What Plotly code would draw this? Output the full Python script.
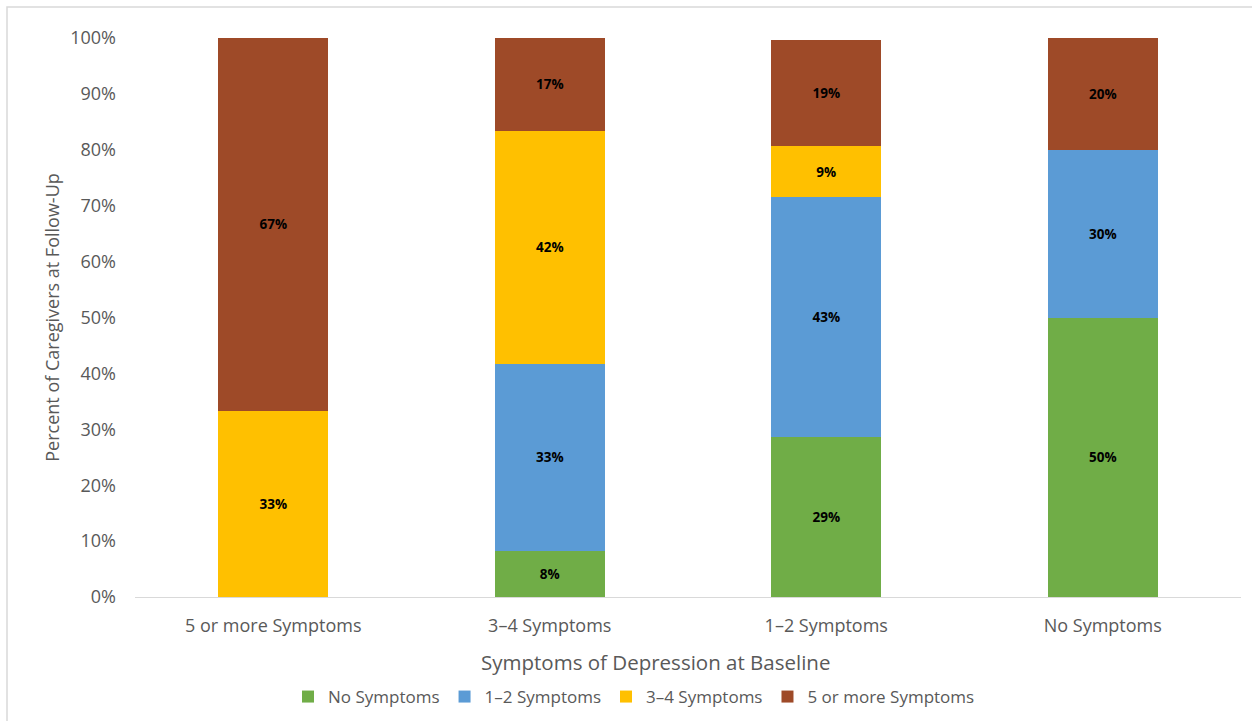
import plotly.graph_objects as go

categories = ["5 or more Symptoms", "3–4 Symptoms", "1–2 Symptoms", "No Symptoms"]
series_names = ["No Symptoms", "1–2 Symptoms", "3–4 Symptoms", "5 or more Symptoms"]
no_symptoms = [None, 8.3, 28.6, 50.0]
one_two = [None, 33.4, 42.9, 30.0]
three_four = [33.3, 41.7, 9.1, None]
five_plus = [66.7, 16.6, 19.0, 20.0]
y_ticks = [0, 10, 20, 30, 40, 50, 60, 70, 80, 90, 100]

colors = ["#70AD47", "#5B9BD5", "#FFC000", "#9E4A28"]
series_values = [no_symptoms, one_two, three_four, five_plus]

FONT = "Open Sans, Liberation Sans, sans-serif"
GREY = "#595959"

fig = go.Figure()
for name, vals, col in zip(series_names, series_values, colors):
    fig.add_trace(go.Bar(
        x=categories, y=vals, name=name, marker=dict(color=col, line=dict(width=0)),
        texttemplate="<b>%{y:.0f}%</b>", textposition="inside", insidetextanchor="middle",
        textangle=0, textfont=dict(family=FONT, size=13.5, color="#000000"),
        hoverinfo="skip",
    ))

L, R, T, B = 135, 11, 38, 124
W, H = 1252, 721
pw, ph = W - L - R, H - T - B

def px(x):
    return (x - L) / pw

def py(y):
    return (H - B - y) / ph

fig.update_layout(
    barmode="stack",
    bargap=0.602,
    width=W, height=H,
    margin=dict(l=L, r=R, t=T, b=B, autoexpand=False),
    paper_bgcolor="white", plot_bgcolor="white",
    font=dict(family=FONT, color=GREY),
    showlegend=True,
    legend=dict(orientation="h", x=px(634), xanchor="center", y=py(697), yanchor="middle",
                font=dict(size=17, color=GREY), traceorder="normal",
                itemwidth=30, bgcolor="rgba(0,0,0,0)"),
    xaxis=dict(showgrid=False, showline=True, linecolor="#D9D9D9", linewidth=1,
               ticks="", tickfont=dict(size=18, color=GREY), ticklabelstandoff=12,
               automargin=False),
    yaxis=dict(range=[0, 100], tickvals=y_ticks, ticktext=[f"{v}%" for v in y_ticks],
               showgrid=False, zeroline=False, showline=False, ticks="",
               tickfont=dict(size=18, color=GREY), ticklabelstandoff=18, automargin=False,
               title=dict(text="Percent of Caregivers at Follow-Up", font=dict(size=18, color=GREY), standoff=5)),
    annotations=[dict(text="Symptoms of Depression at Baseline", xref="paper", yref="paper",
                      x=px(655), y=py(662), xanchor="center", yanchor="middle", showarrow=False,
                      font=dict(size=20.5, color=GREY))],
    shapes=[dict(type="rect", xref="paper", yref="paper",
                 x0=px(7), x1=px(1262), y0=py(735), y1=py(7),
                 line=dict(color="#D9D9D9", width=1.5), fillcolor="rgba(0,0,0,0)", layer="below")],
)

fig.write_html("out.html")
